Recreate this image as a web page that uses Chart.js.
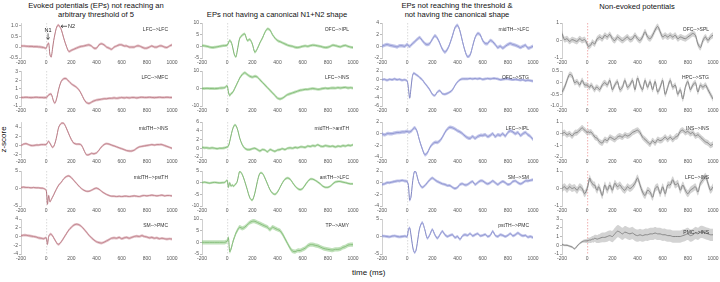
<!DOCTYPE html>
<html><head><meta charset="utf-8">
<script src="https://cdn.jsdelivr.net/npm/chart.js@4.4.1/dist/chart.umd.min.js"></script>
<style>
body{margin:0;width:720px;height:282px;background:#fff;position:relative;overflow:hidden;font-family:"Liberation Sans",Arial,sans-serif;color:#111}
canvas{position:absolute}
.ttl{position:absolute;font-size:7.6px;line-height:9px;text-align:center;white-space:nowrap;transform:translateX(-50%)}
.ax{position:absolute;font-size:8px;white-space:nowrap}
</style></head><body>
<div class="ttl" style="left:96px;top:1px">Evoked potentials (EPs) not reaching an<br>arbitrary threshold of 5</div>
<div class="ttl" style="left:277px;top:10px">EPs not having a canonical N1+N2 shape</div>
<div class="ttl" style="left:457px;top:1px">EPs not reaching the threshold &amp;<br>not having the canonical shape</div>
<div class="ttl" style="left:637px;top:2px">Non-evoked potentials</div>
<div class="ax" style="left:-10px;top:135px;transform:rotate(-90deg)">z-score</div>
<div class="ax" style="left:352px;top:268px">time (ms)</div>
<script>
// ---- time axis (ms) ----
const times = [-200,-180,-160,-140,-120,-100,-80,-60,-40,-20,0,
  10,20,30,40,50,60,70,80,90,100,
  120,140,160,180,200,220,240,260,280,300,
  320,340,360,380,400,420,440,460,480,500,
  520,540,560,580,600,620,640,660,680,700,
  720,740,760,780,800,820,840,860,880,900,
  920,940,960,980,1000];
const xTicks = [-200,0,200,400,600,800,1000];

// ---- column 1: EPs not reaching threshold ----
const lfcLfc = [0.05,0.05,0.04,0.03,0.03,0.02,0.02,0.01,0.0,-0.02,-0.05,
  0.1,0.18,-0.35,-0.45,-0.1,0.3,0.6,0.85,0.98,1.0,
  0.8,0.4,0.05,-0.2,-0.15,-0.1,-0.05,0.0,0.03,0.05,
  0.08,0.1,0.05,-0.05,-0.05,0.1,0.15,0.1,0.0,-0.05,
  -0.1,0.0,0.05,0.1,0.1,0.05,0.05,0.0,0.0,0.0,
  0.05,0.05,0.0,-0.05,-0.05,0.0,0.05,0.0,0.0,0.05,
  0.05,0.0,-0.02,0.05,0.1];
const lfcMfc = [0,0,0.02,0,-0.02,0,0.02,0,0,-0.02,0,
  0.1,0.3,0.38,0.4,0.0,-0.5,-0.65,-0.3,0.3,1.0,
  1.9,2.2,2.2,1.9,1.6,1.4,1.2,0.9,0.4,-0.2,
  -0.6,-0.7,-0.55,-0.4,-0.3,-0.25,-0.2,-0.15,-0.15,-0.1,
  -0.1,-0.05,-0.1,-0.05,0,-0.05,0,-0.05,0,0,
  -0.05,0,0.02,0,0,0.02,0,-0.02,0,0.02,
  0,0,0.02,0,0];
const midthIns = [0.0,0.3,0.4,0.2,0.0,0.0,0.1,0.1,0.2,0.2,0.2,
  0.6,0.9,0.5,0.0,-0.4,-0.2,0.5,1.5,2.8,4.0,
  4.8,4.8,3.8,2.5,1.3,0.5,0.3,0.3,0.1,-1.0,
  -2.0,-2.0,-1.7,-1.8,-1.6,-1.0,-0.3,0.2,0.4,0.3,
  0.1,-0.1,-0.3,-0.5,-0.7,-0.9,-1.1,-1.2,-1.2,-1.0,
  -0.6,-0.3,-0.2,-0.1,0.0,0.1,0.2,0.1,0.2,0.2,
  0.2,0.0,-0.2,-0.4,-0.6];
const midthPstth = [0.3,0.4,0.3,0.3,0.2,0.3,0.2,0.2,0.1,0.0,-0.5,
  -4.5,-2.0,-3.8,-3.2,-2.5,-1.8,-1.0,-0.3,0.4,1.0,
  1.8,2.8,3.4,3.6,3.1,2.3,1.5,0.7,0.0,-0.5,
  -0.8,-0.8,-0.5,-0.1,0.1,-0.2,-0.8,-1.3,-1.7,-2.0,
  -2.2,-2.2,-2.3,-2.2,-2.3,-2.2,-2.2,-2.3,-2.2,-2.1,
  -2.2,-2.3,-2.1,-2.0,-2.1,-2.0,-1.9,-2.0,-2.1,-2.0,
  -1.9,-2.1,-2.0,-2.0,-2.1];
const smPmc = [0.2,0.3,0.3,0.2,0.1,0.0,-0.1,-0.3,-0.4,-0.5,-0.3,
  -1.8,0.0,0.5,0.5,0.2,-0.3,-0.8,-1.3,-1.7,-1.8,
  -1.2,-0.3,0.6,1.5,2.1,2.6,2.8,2.7,2.3,1.7,
  1.0,0.3,-0.3,-0.8,-1.2,-1.4,-1.5,-1.3,-1.0,-0.7,
  -0.4,-0.3,-0.4,-0.2,-0.5,-0.3,-0.2,-0.4,-0.2,0.0,
  0.1,0.0,0.2,0.0,-0.1,-0.3,-0.2,-0.4,-0.3,-0.5,
  -0.4,-0.5,-0.6,-0.5,-0.6];

// ---- column 2: EPs without canonical N1+N2 shape ----
const ofcIpl = [0.3,0.2,0.0,-0.3,-0.5,-0.4,-0.2,0.0,0.2,0.3,0.5,
  1.5,2.5,2.0,0.5,-2.0,-4.0,-4.5,-2.0,1.0,3.5,
  4.8,5.3,2.5,3.0,1.0,-2.5,-1.0,1.5,3.5,6.0,
  7.5,7.0,5.0,3.5,2.5,2.0,1.5,1.0,0.5,0.2,
  0.0,-0.4,-0.5,-0.3,0.0,0.2,0.0,0.3,0.5,0.4,
  0.2,0.0,-0.3,-0.5,-0.4,0.0,0.5,0.3,0.0,-0.2,
  0.2,0.4,0.0,-0.3,-0.5];
const lfcIns = [0,0,0.1,0,0,-0.1,0,0.2,0.3,0.5,1.5,
  -2.0,-4.0,-3.0,-2.5,-1.5,0.0,1.5,3.0,4.5,6.0,
  8.0,9.0,8.0,7.0,6.5,7.0,6.5,5.0,3.5,2.0,
  0.5,-1.0,-2.5,-4.0,-5.5,-6.0,-5.5,-4.5,-3.5,-3.0,
  -2.5,-2.0,-1.5,-1.0,-0.8,-0.5,-0.5,-0.2,0.0,-0.2,
  -0.5,-0.3,0.0,0.2,0.0,0.2,0.3,0.2,0.5,0.3,
  0.5,0.6,0.3,0.5,0.2];
const midthAntth = [0.2,0.1,0.1,0.0,0.1,0.0,-0.1,0.0,0.0,0.1,0.3,
  0.5,1.5,2.8,4.0,4.9,5.3,5.2,4.5,3.5,2.3,
  0.8,0.0,-0.3,-0.3,-0.1,0.0,-0.3,-0.6,-0.3,-0.4,
  -0.8,-0.3,-0.5,-0.7,-0.4,-0.3,-0.1,-0.3,0.0,0.1,
  0.0,0.2,0.1,0.3,0.3,0.2,0.5,0.4,0.6,0.5,
  0.8,0.5,0.4,0.6,0.5,0.4,0.5,0.3,0.5,0.4,
  0.6,0.5,0.7,0.6,0.8];
const antthLfc = [0,0.2,0,-0.2,0,0.1,0,-0.1,0,0.1,1.0,
  -2.0,0.0,-1.5,-1.0,-1.5,-1.0,-0.5,0.5,3.0,4.8,
  3.5,0.5,-3.0,-6.5,-7.5,-4.5,0.5,4.0,4.0,2.0,
  -0.5,-3.0,-4.5,-5.0,-4.0,-2.0,0.0,1.5,2.0,1.5,
  0.0,-1.5,-2.5,-3.0,-2.5,-1.0,0.5,1.5,1.5,1.0,
  0.3,-0.5,-1.5,-2.0,-2.0,-1.5,-0.5,0.3,0.5,0.5,
  0.2,0.0,-0.3,-0.5,-0.5];
const tpAmy = [0,0,0,0,0,0,0,0,0,0,0.5,
  2.0,-4.0,-3.0,-1.0,1.0,2.5,4.0,5.0,6.0,6.5,
  6.0,6.5,7.5,8.5,9.0,9.0,8.5,8.0,7.5,7.0,
  6.5,5.5,6.5,6.0,5.5,5.0,3.5,1.5,-0.5,-2.5,
  -3.8,-4.0,-3.5,-3.5,-3.0,-2.5,-1.5,-1.0,-1.0,-1.3,
  -1.5,-2.0,-2.5,-2.8,-3.0,-3.2,-3.3,-3.0,-3.0,-2.8,
  -2.2,-1.8,-1.2,-1.0,-1.0];

// ---- column 3: below threshold and non-canonical ----
const midthLfc = [0,0.2,0.3,0.2,0.1,0,-0.1,0.1,0.1,0,0.3,
  0.1,0.0,0.2,0.4,0.6,0.8,1.0,1.2,1.4,1.5,
  1.0,0.5,0.3,0.5,1.2,1.8,1.4,0.5,-0.5,-1.0,
  -0.5,0.5,1.8,3.2,3.6,2.6,0.8,-0.8,-1.8,-1.5,
  0.0,1.5,2.2,2.0,1.0,0.5,0.5,1.0,0.8,0.3,
  -0.2,0.0,-0.3,0.0,0.3,0.5,0.3,0.2,0.0,-0.2,
  0.0,0.2,-0.3,-0.2,0.0];
const ofcStg = [0,0.1,-0.1,0.1,0,0.2,0,0.1,-0.1,0,-0.3,
  -2.0,-4.2,-2.0,0.5,1.5,1.4,1.2,1.0,0.8,0.5,
  0.0,-0.8,-1.5,-2.3,-3.3,-3.6,-2.8,-2.5,-3.2,-3.3,
  -3.1,-2.8,-2.3,-1.3,-0.5,0.0,0.2,0.2,0.2,0.3,
  0.2,0.3,0.2,0.3,0.1,0.2,0.3,0.2,0.3,0.3,
  0.2,0.0,0.1,0.2,0.2,0.1,0.0,0.1,0.0,-0.1,
  0.0,-0.2,-0.1,-0.2,-0.3];
const lfcIpl = [0,-0.2,0,0,0,0.1,0.2,0.2,0.3,0.3,0.4,
  0.3,0.3,0.4,0.6,0.9,1.0,0.8,0.3,-0.5,-1.3,
  -2.6,-3.6,-3.3,-2.4,-1.8,-1.5,-1.5,-1.2,-0.6,0.2,
  0.8,1.1,1.0,0.8,0.5,0.3,0.0,-0.4,-0.7,-0.8,
  -0.5,-0.8,-0.5,-0.3,-0.3,-0.2,-0.5,-0.3,0.0,-0.5,
  -0.2,-0.3,0.0,-0.4,0.2,0.5,0.3,0.0,0.2,-0.3,
  0.0,0.2,-0.2,-0.5,-1.0];
const smSm = [-0.3,-0.2,0,0,0.1,0.2,0.3,0.3,0.4,0.3,0.2,
  -0.5,-3.0,-2.5,-0.5,1.2,2.0,1.8,1.0,0.2,-0.3,
  -0.8,-0.5,0.0,0.5,0.8,0.5,0.2,0.0,-0.2,-0.3,
  -0.5,-0.5,-0.8,-1.0,-0.8,-0.3,-0.2,-0.4,-0.3,0.0,
  0.2,-0.3,0.0,0.3,0.3,0.0,-0.2,0.0,0.3,0.0,
  -0.3,0.0,0.2,0.0,-0.3,-0.2,0.2,0.3,0.0,-0.2,
  0.0,0.3,0.3,0.4,0.5];
const pstthPmc = [0.2,0.1,0.0,-0.1,0.1,0.2,0.0,-0.1,0.0,0.1,0.0,
  2.0,2.5,0.5,-2.0,-4.0,-4.6,-4.0,-2.0,0.5,2.5,
  4.0,2.0,-0.5,0.5,2.0,0.5,-0.5,0.5,1.5,0.5,
  0.0,0.3,0.5,-0.3,0.0,-0.8,0.2,0.5,0.3,0.8,
  0.2,0.5,0.8,0.2,0.3,0.6,0.0,0.3,1.5,0.3,
  0.0,0.5,0.3,0.0,0.3,0.8,0.2,0.5,1.0,0.5,
  0.2,0.3,-0.2,0.0,-0.3];

// ---- column 4: non-evoked potentials ----
const ofcSpl = [0.4,0.05,0.1,-0.05,0.05,0,-0.05,0.1,0.0,0.05,-0.2,
  -0.35,-0.3,-0.25,-0.1,-0.15,-0.2,-0.05,0.1,0.15,0.2,
  0.1,0.3,0.2,0.35,0.1,0.0,0.2,0.1,0.0,0.1,
  0.2,0.05,0.1,0.3,0.1,0.0,0.2,0.5,0.2,0.1,
  0.3,0.6,0.8,0.5,0.2,0.3,0.2,0.3,0.2,0.3,
  0.1,0.2,0.15,0.1,0.2,0.3,0.4,0.3,-0.2,-0.4,
  0.0,0.2,0.0,0.2,0.3];
const hpcStg = [-0.4,-0.2,0.1,0.35,0.3,0.0,0.05,-0.1,0.1,-0.1,-0.1,
  -0.15,-0.2,-0.1,-0.15,-0.25,-0.3,-0.2,-0.2,-0.25,-0.3,
  -0.1,0.0,-0.1,0.1,-0.3,-0.1,0.05,-0.3,-0.2,0.1,
  -0.2,-0.1,0.1,-0.3,0.2,-0.1,-0.3,0.1,-0.2,0.05,
  -0.3,0.05,-0.4,-0.2,0.1,-0.5,-0.2,0.1,-0.2,-0.1,
  -0.5,-0.3,-0.7,-0.2,0.05,-0.3,-0.1,0.0,-0.4,-0.1,
  -0.2,-0.1,-0.3,-0.5,-0.7];
const insIns = [0,0.1,-0.1,0,-0.2,0.05,0.1,0.3,0.5,0.3,0.1,
  0.15,0.1,0.15,0.0,-0.1,-0.3,-0.35,-0.4,-0.6,-0.7,
  -0.8,-0.5,-0.6,-0.3,-0.4,-0.5,-0.3,-0.2,-0.3,-0.1,
  -0.2,-0.1,0.1,0.2,0.3,0.1,-0.3,-0.5,-0.7,-0.9,
  -0.6,-0.8,-0.5,-0.6,-0.5,-0.3,-0.5,-0.3,-0.5,-0.3,
  -0.2,0.2,0.3,0.1,0.2,0.0,0.1,-0.2,-0.1,-0.3,
  -0.5,-0.7,-0.8,-1.0,-0.9];
const lfcInsNe = [0,0.1,-0.05,0.1,0,0.05,-0.1,0.1,0,-0.3,0,
  0.3,0.6,0.4,0.3,0.2,0.2,0.0,-0.1,0.1,0.0,
  -0.4,0.2,-0.1,0.2,-0.1,0.3,0.1,0.2,0.0,-0.1,
  0.1,0.0,0.1,0.3,0.6,0.2,-0.2,-0.4,-0.1,-0.2,
  -0.5,0.0,0.1,-0.3,0.1,-0.3,0.2,0.2,0.5,0.2,
  0.3,-0.1,0.2,-0.1,-0.3,-0.1,0.0,0.1,-0.2,0.3,
  0.5,0.7,0.3,-0.1,0.1];
const pmcIns = [0.1,0,0,-0.1,-0.2,-0.4,-0.1,0.2,0.4,0.5,0.5,
  0.55,0.6,0.6,0.7,0.7,0.8,0.75,0.7,0.75,0.8,
  0.9,0.9,1.0,1.1,1.0,1.3,1.6,1.5,1.3,1.5,
  1.4,1.3,1.4,1.2,1.1,1.2,1.1,1.2,1.2,1.3,
  1.3,1.4,1.3,1.3,1.2,1.2,1.1,1.1,1.0,1.0,
  1.0,1.0,1.1,1.2,1.3,1.1,1.2,1.4,1.3,1.5,
  1.5,1.4,1.3,1.2,1.2];
const pmcInsErr = [0.12,0.12,0.12,0.12,0.12,0.12,0.12,0.12,0.15,0.2,0.25,
  0.3,0.3,0.35,0.35,0.4,0.4,0.45,0.45,0.5,0.5,
  0.55,0.55,0.6,0.6,0.65,0.7,0.7,0.7,0.7,0.7,
  0.7,0.7,0.7,0.7,0.7,0.7,0.7,0.7,0.7,0.7,
  0.7,0.7,0.7,0.7,0.7,0.7,0.7,0.7,0.7,0.7,
  0.7,0.7,0.7,0.7,0.7,0.7,0.7,0.7,0.7,0.7,
  0.7,0.7,0.7,0.7,0.7];

// ---- panel definitions ----
const panels = [
  {c:0,r:0,name:'LFC-->LFC',data:lfcLfc,err:0.06,min:-0.5,max:1.1,ticks:[-0.5,0,0.5,1]},
  {c:0,r:1,name:'LFC-->MFC',data:lfcMfc,err:0.15,min:-1,max:3.1,ticks:[-1,0,1,2,3]},
  {c:0,r:2,name:'midTH-->INS',data:midthIns,err:0.25,min:-2.5,max:5.1,ticks:[-2,0,2,4]},
  {c:0,r:3,name:'midTH-->pstTH',data:midthPstth,err:0.3,min:-5,max:5,ticks:[-5,0,5]},
  {c:0,r:4,name:'SM-->PMC',data:smPmc,err:0.3,min:-4,max:4,ticks:[-4,-2,0,2,4]},
  {c:1,r:0,name:'OFC-->IPL',data:ofcIpl,err:0.6,min:-5,max:10,ticks:[-5,0,5,10]},
  {c:1,r:1,name:'LFC-->INS',data:lfcIns,err:0.8,min:-10,max:10,ticks:[-10,0,10]},
  {c:1,r:2,name:'midTH-->antTH',data:midthAntth,err:0.3,min:-2,max:6,ticks:[-2,0,2,4,6]},
  {c:1,r:3,name:'antTH-->LFC',data:antthLfc,err:0.5,min:-10,max:5,ticks:[-10,-5,0,5]},
  {c:1,r:4,name:'TP-->AMY',data:tpAmy,err:0.9,min:-5,max:10,ticks:[-5,0,5,10]},
  {c:2,r:0,name:'midTH-->LFC',data:midthLfc,err:0.3,min:-2,max:4,ticks:[-2,0,2,4]},
  {c:2,r:1,name:'OFC-->STG',data:ofcStg,err:0.3,min:-6,max:2,ticks:[-6,-4,-2,0,2]},
  {c:2,r:2,name:'LFC-->IPL',data:lfcIpl,err:0.3,min:-4,max:2,ticks:[-4,-2,0,2]},
  {c:2,r:3,name:'SM-->SM',data:smSm,err:0.25,min:-4,max:2,ticks:[-4,-2,0,2]},
  {c:2,r:4,name:'pstTH-->PMC',data:pstthPmc,err:0.4,min:-5,max:5,ticks:[-5,0,5]},
  {c:3,r:0,name:'OFC-->SPL',data:ofcSpl,err:0.17,min:-1,max:1,ticks:[-1,0,1]},
  {c:3,r:1,name:'HPC-->STG',data:hpcStg,err:0.12,min:-1,max:0.5,ticks:[-1,-0.5,0,0.5]},
  {c:3,r:2,name:'INS-->INS',data:insIns,err:0.25,min:-2,max:1,ticks:[-2,-1,0,1]},
  {c:3,r:3,name:'LFC-->INS',data:lfcInsNe,err:0.2,min:-1,max:1,ticks:[-1,0,1]},
  {c:3,r:4,name:'PMC-->INS',data:pmcIns,err:pmcInsErr,min:-1,max:3,ticks:[-1,0,1,2,3],ly:14}
];

// ---- layout & style ----
const colX = [21,202,382,562], rowY = [23,71,122,171,219];
const PW = 151, PH = 35, LW = 16, TP = 4, RP = 10, BH = 9;
const colStyle = [
  {line:'#a6636d', band:'rgba(208,150,160,0.6)', zero:'#d0d0d0'},
  {line:'#68a25a', band:'rgba(150,205,140,0.6)', zero:'#d0d0d0'},
  {line:'#6d73b4', band:'rgba(160,166,222,0.65)', zero:'#d0d0d0'},
  {line:'#6e6e6e', band:'rgba(150,150,150,0.42)', zero:'#ec9a9a'}
];
const FONT = '"Liberation Sans", Arial, sans-serif';

const decor = {
  id:'decor',
  beforeDatasetsDraw(ch, a, o){
    const ctx = ch.ctx, ca = ch.chartArea, x = ch.scales.x.getPixelForValue(0);
    ctx.save(); ctx.strokeStyle = o.zero; ctx.lineWidth = 0.8; ctx.setLineDash([1.5,1.5]);
    ctx.beginPath(); ctx.moveTo(x+0.5, ca.top); ctx.lineTo(x+0.5, ca.bottom); ctx.stroke(); ctx.restore();
  },
  afterDraw(ch, a, o){
    const ctx = ch.ctx, ca = ch.chartArea, xs = ch.scales.x, ys = ch.scales.y;
    ctx.save();
    // x tick labels
    ctx.fillStyle = '#555'; ctx.font = '5px ' + FONT;
    ctx.textAlign = 'center'; ctx.textBaseline = 'top';
    xTicks.forEach(v => ctx.fillText(String(v), xs.getPixelForValue(v), ca.bottom + 2));
    // pair label
    ctx.fillStyle = '#333';
    ctx.textAlign = 'right'; ctx.textBaseline = 'middle';
    ctx.fillText(o.name, ca.right - 4, ca.top + (o.ly || 7));
    if (o.ann) {
      const x1 = xs.getPixelForValue(15), y1 = ys.getPixelForValue(0.35);
      ctx.font = '5.5px ' + FONT; ctx.textAlign = 'center'; ctx.fillStyle = '#222';
      ctx.fillText('N1', x1, y1 - 9);
      ctx.strokeStyle = '#222'; ctx.lineWidth = 0.7;
      ctx.beginPath(); ctx.moveTo(x1, y1 - 6); ctx.lineTo(x1, y1); ctx.stroke();
      ctx.beginPath(); ctx.moveTo(x1 - 1.5, y1 - 2); ctx.lineTo(x1, y1); ctx.lineTo(x1 + 1.5, y1 - 2); ctx.stroke();
      const x2 = xs.getPixelForValue(118), y2 = ys.getPixelForValue(0.95);
      ctx.beginPath(); ctx.moveTo(x2 + 6, y2); ctx.lineTo(x2, y2); ctx.stroke();
      ctx.beginPath(); ctx.moveTo(x2 + 2, y2 - 1.5); ctx.lineTo(x2, y2); ctx.lineTo(x2 + 2, y2 + 1.5); ctx.stroke();
      ctx.textAlign = 'left'; ctx.fillText('N2', x2 + 7, y2);
    }
    ctx.restore();
  }
};

panels.forEach((p, k) => {
  const st = colStyle[p.c];
  const cv = document.createElement('canvas');
  cv.width = LW + PW + RP; cv.height = TP + PH + BH;
  cv.style.left = (colX[p.c] - LW) + 'px'; cv.style.top = (rowY[p.r] - TP) + 'px';
  document.body.appendChild(cv);
  const e = i => Array.isArray(p.err) ? p.err[i] : p.err;
  const mid = p.data.map((v, i) => ({x: times[i], y: v}));
  const up = p.data.map((v, i) => ({x: times[i], y: v + e(i)}));
  const lo = p.data.map((v, i) => ({x: times[i], y: v - e(i)}));
  new Chart(cv, {
    type: 'line',
    data: {datasets: [
      {data: up, borderWidth: 0, pointRadius: 0, fill: false, backgroundColor: st.band, tension: 0.3},
      {data: lo, borderWidth: 0, pointRadius: 0, fill: '-1', backgroundColor: st.band, tension: 0.3},
      {data: mid, borderWidth: 0.9, borderColor: st.line, pointRadius: 0, fill: false, tension: 0.3}
    ]},
    options: {
      responsive: false, animation: false, devicePixelRatio: 1,
      layout: {padding: {top: TP, right: RP, left: 0, bottom: BH}},
      plugins: {legend: {display: false}, tooltip: {enabled: false},
        decor: {zero: st.zero, name: p.name, ly: p.ly, ann: k === 0}},
      scales: {
        x: {type: 'linear', min: -200, max: 1000, display: false},
        y: {type: 'linear', min: p.min, max: p.max,
          afterBuildTicks: s => { s.ticks = p.ticks.map(v => ({value: v})); },
          afterFit: s => { s.width = LW; },
          grid: {drawOnChartArea: false, drawTicks: true, tickLength: 2, color: '#bbb'},
          border: {display: true, color: '#c4c4c4', width: 0.8},
          ticks: {font: {size: 5, family: FONT}, color: '#555', padding: 1, autoSkip: false}}
      }
    },
    plugins: [decor]
  });
});
</script>
</body></html>
